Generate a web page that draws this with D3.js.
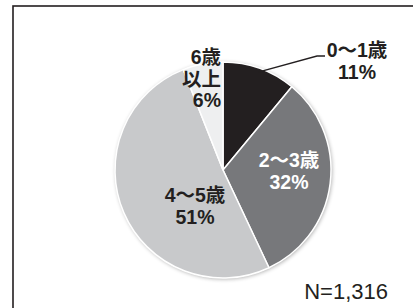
<!DOCTYPE html>
<html>
<head>
<meta charset="utf-8">
<script src="https://cdn.jsdelivr.net/npm/d3@7"></script>
<style>
  body { margin: 0; background: #fff; }
  svg { display: block; }
  text { font-family: "Liberation Sans", "Noto Sans CJK JP", sans-serif; }
</style>
</head>
<body>
<script>
const categories = ["0～1歳", "2～3歳", "4～5歳", "6歳以上"];
const values = [11, 32, 51, 6];
const labelLines = [["0～1歳", "11%"], ["2～3歳", "32%"], ["4～5歳", "51%"], ["6歳", "以上", "6%"]];
const colors = ["#231f20", "#77787b", "#c8c9cb", "#eeeff0"];
const textColors = ["#231f20", "#ffffff", "#231f20", "#231f20"];
const total = "N=1,316";

const w = 413, h = 308;
const cx = 223, cy = 170, r = 108;

let svg = d3.select('body')
            .append('svg')
            .attr('width', w)
            .attr('height', h);

// soft shadow round the pie
let defs = svg.append('defs');
let f = defs.append('filter').attr('id', 'sh').attr('x', '-20%').attr('y', '-20%').attr('width', '140%').attr('height', '140%');
f.append('feGaussianBlur').attr('in', 'SourceAlpha').attr('stdDeviation', 2);
f.append('feOffset').attr('dx', 1).attr('dy', 1).attr('result', 'b');
f.append('feComponentTransfer').append('feFuncA').attr('type', 'linear').attr('slope', 0.35);
let m = f.append('feMerge');
m.append('feMergeNode');
m.append('feMergeNode').attr('in', 'SourceGraphic');

// frame (runs off the right and bottom edges)
svg.append('rect')
  .attr('x', 13).attr('y', 6)
  .attr('width', 420).attr('height', 320)
  .attr('fill', 'none')
  .attr('stroke', '#231f20')
  .attr('stroke-width', 1.6);

const pie = d3.pie().sort(null).value(d => d);
const arcs = pie(values);
const arc = d3.arc().innerRadius(0).outerRadius(r);

let g = svg.append('g').attr('transform', `translate(${cx},${cy})`);

g.append('circle').attr('r', r).attr('fill', '#ddd').attr('filter', 'url(#sh)');

g.selectAll('path')
  .data(arcs)
  .enter()
    .append('path')
    .attr('d', arc)
    .attr('fill', (d, i) => colors[i])
    .attr('stroke', '#fff')
    .attr('stroke-width', 1.5)
    .attr('stroke-linejoin', 'round');

// label anchors
const labelPos = [[357, 57, 'middle'], [289, 167, 'middle'], [195, 202, 'middle'], [221, 64, 'end']];
const lineGap = 21.5;

labelLines.forEach((lines, i) => {
  let t = svg.append('text')
    .attr('text-anchor', labelPos[i][2])
    .attr('font-size', 19.5)
    .attr('font-weight', 'bold')
    .attr('fill', textColors[i]);
  lines.forEach((s, j) => {
    t.append('tspan')
      .attr('x', labelPos[i][0])
      .attr('y', labelPos[i][1] + j * lineGap)
      .text(s);
  });
});

// leader line for the small black slice
const mid = (arcs[0].startAngle + arcs[0].endAngle) / 2;
const p0 = [cx + Math.sin(mid) * (r - 4), cy - Math.cos(mid) * (r - 4)];
svg.append('polyline')
  .attr('points', [p0, [317, 56], [325, 56]].map(p => p.join(',')).join(' '))
  .attr('fill', 'none')
  .attr('stroke', '#231f20')
  .attr('stroke-width', 1.3);

svg.append('text')
  .attr('x', 388).attr('y', 299)
  .attr('text-anchor', 'end')
  .attr('font-size', 22)
  .attr('fill', '#231f20')
  .text(total);
</script>
</body>
</html>
